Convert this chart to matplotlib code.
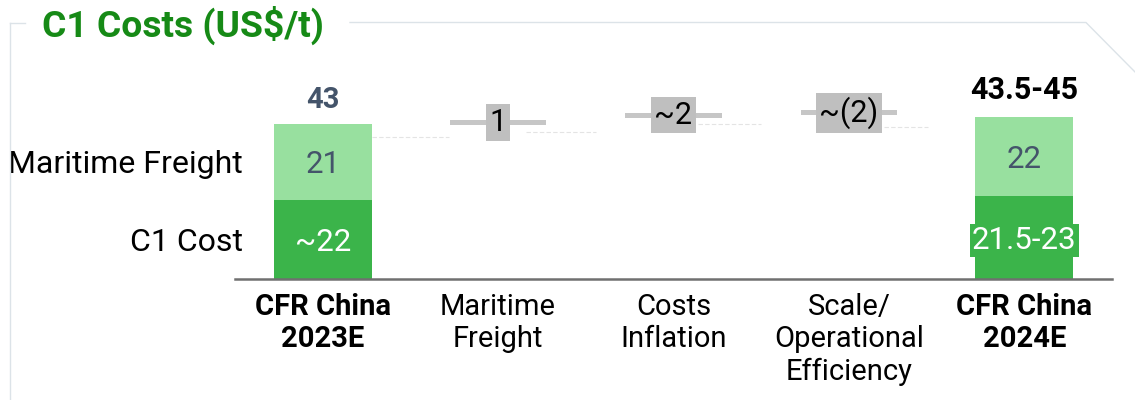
import matplotlib
matplotlib.use("Agg")
import matplotlib.pyplot as plt
from matplotlib.lines import Line2D

plt.rcParams['font.family'] = ['Roboto', 'DejaVu Sans']

# ---- data ----
categories = ["CFR China\n2023E", "Maritime\nFreight", "Costs\nInflation",
              "Scale/\nOperational\nEfficiency", "CFR China\n2024E"]
bold_categories = [True, False, False, False, True]
series_names = ["C1 Cost", "Maritime Freight"]
c1_cost = [22, 23]            # stacked bars (first & last)
freight = [21, 22]
c1_labels = ["~22", "21.5-23"]
freight_labels = ["21", "22"]
total_labels = ["43", "43.5-45"]
step_levels = [43.35, 45.4, 46.1]   # floating step markers (centre level)
step_labels = ["1", "~2", "~(2)"]
connector_levels = [39.3, 40.7, 42.9, 42.1]

# ---- styles ----
DARK = '#3bb44a'
LIGHT = '#98e09f'
SLATE = '#44546a'
GREY_LINE = '#c6c6c6'
GREY_BOX = '#bfbfbf'
FRAME = '#dce3e8'

fig = plt.figure(figsize=(11.35, 4.0), dpi=100)
W, H = 1135, 400
ax_left, ax_right, ax_base, ax_top = 235, 1112, 279, 40
ax = fig.add_axes([ax_left / W, 1 - ax_base / H, (ax_right - ax_left) / W, (ax_base - ax_top) / H])
px_per_unit = 3.61
ax.set_xlim(-0.5, 4.5)
ax.set_ylim(0, (ax_base - ax_top) / px_per_unit)

bar_w = 0.56
stack_x = [0, 4]
ax.bar(stack_x, c1_cost, width=bar_w, color=DARK, zorder=2)
ax.bar(stack_x, freight, width=bar_w, bottom=c1_cost, color=LIGHT, zorder=2)

# segment labels
for i, x in enumerate(stack_x):
    if i == 1:
        ax.text(x, c1_cost[i] / 2, c1_labels[i], ha='center', va='center_baseline', fontsize=22.5,
                color='white', zorder=4,
                bbox=dict(boxstyle='square,pad=0.07', facecolor=DARK, edgecolor='none'))
    else:
        ax.text(x, c1_cost[i] / 2, c1_labels[i], ha='center', va='center_baseline', fontsize=22.5,
                color='white', zorder=4)
    ax.text(x, c1_cost[i] + freight[i] / 2, freight_labels[i], ha='center', va='center_baseline',
            fontsize=22.5, color=SLATE, zorder=4)
    tot = c1_cost[i] + freight[i]
    ax.annotate(total_labels[i], xy=(x, tot), xytext=(0, 11.5 if i == 0 else 12.5),
                textcoords='offset points', ha='center', va='baseline', fontsize=21 if i == 0 else 22,
                fontweight='bold', color=SLATE if i == 0 else 'black', zorder=4)

# floating step markers
step_x = [1, 2, 3]
thick = 1.4
ax.bar(step_x, [thick] * 3, bottom=[lv - thick / 2 for lv in step_levels], width=0.55,
       color=GREY_LINE, zorder=2)
for x, lv, lab in zip(step_x, step_levels, step_labels):
    ax.text(x, lv, lab, ha='center', va='center', fontsize=22, color='black', zorder=4,
            bbox=dict(boxstyle='square,pad=0.12', facecolor=GREY_BOX, edgecolor='none'))

# faint dashed connectors
conn_start = [0.28, 1.16, 2.14, 3.2]
conn_end = [0.72, 1.56, 2.5, 3.45]
for s, e, lv in zip(conn_start, conn_end, connector_levels):
    ax.plot([s, e], [lv, lv], color='#e4e4e4', lw=0.8, ls=(0, (4, 2)), zorder=1)

# series labels on the left
for name, yv in zip(series_names, [c1_cost[0] / 2, c1_cost[0] + freight[0] / 2]):
    ax.text(-0.456, yv, name, ha='right', va='center_baseline', fontsize=23, color='black')

# axes styling
for sp in ['top', 'right', 'left']:
    ax.spines[sp].set_visible(False)
ax.spines['bottom'].set_color('#707070')
ax.spines['bottom'].set_linewidth(1.8)
ax.set_yticks([])
ax.set_xticks(range(len(categories)))
ax.set_xticklabels(categories, fontsize=21, linespacing=1.2)
for lbl, b in zip(ax.get_xticklabels(), bold_categories):
    lbl.set_fontweight('bold' if b else 'normal')
ax.tick_params(axis='x', length=0, pad=10)

# frame decoration
def fl(xs, ys):
    fig.add_artist(Line2D([x / W for x in xs], [1 - y / H for y in ys],
                          transform=fig.transFigure, color=FRAME, lw=1.0))
fl([9.5, 9.5], [400, 22.5])
fl([9.5, 25], [22.5, 22.5])
fl([350, 1086, 1140], [22.5, 22.5, 77])

fig.text(42 / W, 1 - 37 / H, "C1 Costs (US$/t)", fontsize=26.8, fontweight='bold',
         color='#168a16', ha='left', va='baseline')

fig.savefig("out.png", dpi=100)
